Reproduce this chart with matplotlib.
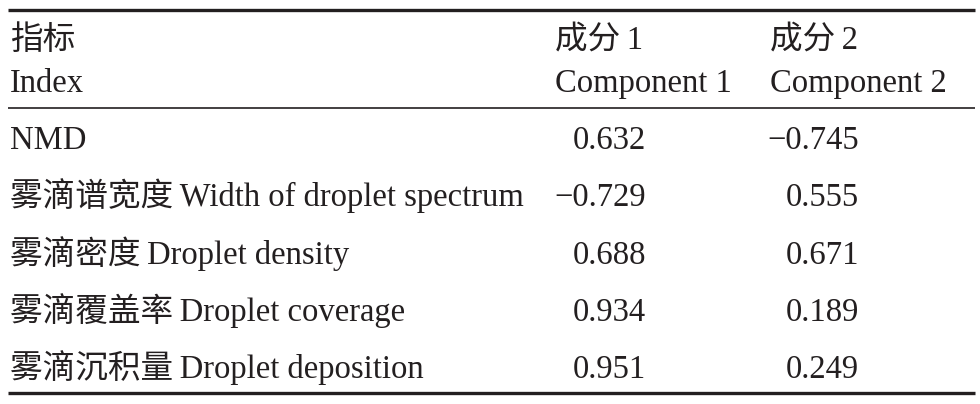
import matplotlib
matplotlib.use("Agg")
import matplotlib.pyplot as plt

plt.rcParams['font.family'] = ['Liberation Serif', 'Noto Sans CJK SC']

# 表格内容
header_cn = ["指标", "成分\u20091", "成分\u20092"]
header_en = ["Index", "Component 1", "Component 2"]
row_labels = ["NMD",
              "雾滴谱宽度\u2009Width of droplet spectrum",
              "雾滴密度\u2009Droplet density",
              "雾滴覆盖率\u2009Droplet coverage",
              "雾滴沉积量\u2009Droplet deposition"]
comp1 = [0.632, -0.729, 0.688, 0.934, 0.951]
comp2 = [-0.745, 0.555, 0.671, 0.189, 0.249]


def fmt(v):
    s = f"{abs(v):.3f}"
    return ("\u2212" + s) if v < 0 else s


W, H = 980, 404
fig = plt.figure(figsize=(W / 100, H / 100), dpi=100)
ax = fig.add_axes([0, 0, 1, 1])
ax.set_xlim(0, W); ax.set_ylim(H, 0); ax.axis("off")

fs = 23.5
x_lab, x_c1, x_c2 = 10, 555, 770
x_v1, x_v2 = 646, 859

# três linhas
ax.plot([8, 975], [10, 10], color="#231f20", lw=2.4, solid_capstyle="butt")
ax.plot([8, 975], [108, 108], color="#231f20", lw=1.2, solid_capstyle="butt")
ax.plot([8, 975], [393, 393], color="#231f20", lw=2.4, solid_capstyle="butt")

kw = dict(fontsize=fs, color="#231f20", va="baseline")
for x, cn, en in zip([x_lab, x_c1, x_c2], header_cn, header_en):
    ax.text(x, 49, cn, ha="left", **kw)
    ax.text(x, 92, en, ha="left", **kw)

y0, dy = 149, 57.3
for i, (lab, a, b) in enumerate(zip(row_labels, comp1, comp2)):
    y = y0 + i * dy
    ax.text(x_lab, y, lab, ha="left", **kw)
    ax.text(x_v1, y, fmt(a), ha="right", **kw)
    ax.text(x_v2, y, fmt(b), ha="right", **kw)

fig.savefig("out.png", dpi=100)
